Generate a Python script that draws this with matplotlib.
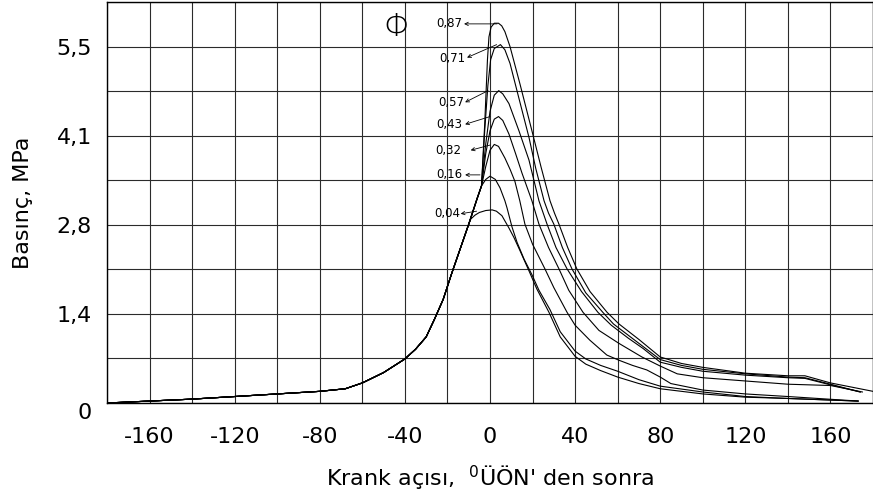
import numpy as np
import matplotlib
matplotlib.use("Agg")
import matplotlib.pyplot as plt

# ortak sıkıştırma eğrisi (tüm eğriler buradan ayrılıyor)
base_x = [-180, -160, -140, -120, -100, -80, -68, -60, -50, -40, -35, -30, -26, -22, -18, -14, -10]
base_y = [0, 0.03, 0.06, 0.10, 0.14, 0.18, 0.22, 0.31, 0.47, 0.68, 0.83, 1.02, 1.30, 1.60, 2.00, 2.38, 2.76]

# her Φ değeri için ayrılan kısım
phi_004_x = [-9, -7, -5, -2, 1, 3, 5.6, 8.9, 11.3, 14.1, 18.3, 22, 27.7, 33, 40, 45, 52, 60, 70, 80, 100, 120, 140, 173]
phi_004_y = [2.84, 2.90, 2.94, 2.97, 2.98, 2.96, 2.89, 2.70, 2.55, 2.35, 2.04, 1.76, 1.40, 1.02, 0.72, 0.60, 0.50, 0.40, 0.30, 0.22, 0.14, 0.09, 0.07, 0.03]

phi_016_x = [-8, -6, -4, -2, 0, 2.5, 4.7, 7, 8, 10.3, 12.7, 16, 19.7, 23, 28.2, 33, 40, 45, 52, 60, 70, 80, 100, 120, 140, 173]
phi_016_y = [2.96, 3.16, 3.35, 3.45, 3.50, 3.45, 3.32, 3.12, 3.01, 2.72, 2.48, 2.22, 1.98, 1.74, 1.44, 1.10, 0.80, 0.68, 0.58, 0.49, 0.36, 0.26, 0.17, 0.10, 0.07, 0.03]

phi_032_x = [-8, -6, -4, -2, 0, 2, 4, 7, 9.5, 11.7, 14, 16.4, 20, 25.8, 30, 36.2, 40, 46.9, 54.9, 60.6, 67, 73.7, 80, 85, 100, 120, 140, 173]
phi_032_y = [2.96, 3.16, 3.35, 3.65, 3.90, 3.99, 3.96, 3.78, 3.60, 3.42, 3.12, 2.76, 2.45, 2.07, 1.78, 1.40, 1.20, 0.97, 0.74, 0.66, 0.58, 0.51, 0.40, 0.30, 0.20, 0.14, 0.10, 0.03]

phi_043_x = [-8, -6, -4, -2, 0, 2, 4, 6, 8.9, 12, 15, 19.7, 23, 27.5, 32.4, 37, 43.7, 51.2, 60.6, 71.4, 80, 88, 100, 120, 140, 160, 175]
phi_043_y = [2.96, 3.16, 3.35, 3.85, 4.20, 4.38, 4.42, 4.36, 4.15, 3.85, 3.55, 3.12, 2.76, 2.40, 2.07, 1.74, 1.40, 1.12, 0.92, 0.71, 0.57, 0.45, 0.39, 0.34, 0.29, 0.27, 0.17]

phi_057_x = [-8, -6, -4, -2, 0, 2, 4.1, 6, 8.9, 13.6, 18.3, 23, 26.8, 31, 36.2, 43, 50.7, 57, 65, 72, 80, 90, 100, 120, 140, 148, 160, 174]
phi_057_y = [2.96, 3.16, 3.35, 4.00, 4.50, 4.75, 4.82, 4.77, 4.62, 4.20, 3.75, 3.12, 2.76, 2.40, 2.07, 1.72, 1.40, 1.20, 1.00, 0.84, 0.63, 0.55, 0.49, 0.43, 0.39, 0.38, 0.28, 0.17]

phi_071_x = [-8, -6, -4, -2.5, -1, 0.3, 2, 4.9, 7, 9.4, 13.6, 18.3, 21.5, 25.4, 27.5, 30, 34, 38.5, 45, 53, 58, 70, 80, 90, 100, 120, 140, 148, 160, 174]
phi_071_y = [2.96, 3.16, 3.35, 4.20, 4.90, 5.30, 5.47, 5.53, 5.45, 5.24, 4.70, 4.10, 3.62, 3.12, 2.93, 2.76, 2.40, 2.07, 1.70, 1.40, 1.22, 0.92, 0.67, 0.58, 0.52, 0.45, 0.40, 0.39, 0.29, 0.17]

phi_087_x = [-8, -6, -4, -2.5, -1.2, -0.5, 0.5, 2, 4, 5.5, 7, 9.4, 14.1, 19.7, 24, 28.2, 30.3, 32.4, 36.5, 40.8, 47, 55, 60.6, 70, 80, 90, 100, 120, 140, 148, 160, 180]
phi_087_y = [2.96, 3.16, 3.35, 4.30, 5.30, 5.65, 5.80, 5.86, 5.86, 5.82, 5.73, 5.50, 4.92, 4.20, 3.64, 3.12, 2.93, 2.76, 2.40, 2.07, 1.72, 1.40, 1.22, 0.98, 0.71, 0.61, 0.55, 0.46, 0.42, 0.42, 0.31, 0.18]

etiketler = ['0,87', '0,71', '0,57', '0,43', '0,32', '0,16', '0,04']

egriler = [(phi_087_x, phi_087_y), (phi_071_x, phi_071_y), (phi_057_x, phi_057_y),
           (phi_043_x, phi_043_y), (phi_032_x, phi_032_y), (phi_016_x, phi_016_y),
           (phi_004_x, phi_004_y)]

fig = plt.figure(figsize=(8.73, 5.03), dpi=100)
ax = fig.add_axes([0.1226, 0.1988, 0.8774, 0.7972])

for ex, ey in egriler:
    ax.plot(base_x + ex, base_y + ey, color='black', lw=0.8)

# etiket konumları: (yazı, ok ucu, eğri noktası)
etiket_yer = [((-19.0, 5.85), (-12.2, 5.85), (3.3, 5.85)),
              ((-17.9, 5.32), (-10.8, 5.33), (3.1, 5.53)),
              ((-18.3, 4.64), (-11.7, 4.64), (-0.9, 4.82)),
              ((-19.0, 4.30), (-11.7, 4.30), (0.0, 4.42)),
              ((-19.5, 3.90), (-9.1, 3.90), (0.0, 3.98)),
              ((-19.0, 3.53), (-11.7, 3.52), (-4.7, 3.52)),
              ((-20.2, 2.92), (-13.8, 2.92), (-6.3, 2.96))]

for lab, (t, h, c) in zip(etiketler, etiket_yer):
    ax.text(t[0], t[1], lab, fontsize=8.5, ha='center', va='center')
    ax.annotate('', xy=h, xytext=c,
                arrowprops=dict(arrowstyle='->', lw=0.6, color='black',
                                shrinkA=0, shrinkB=0, mutation_scale=6))

ax.text(-43.7, 5.80, 'Φ', fontsize=23, fontweight='light', ha='center', va='center', color='black')

ax.set_xlim(-180, 180)
ax.set_ylim(0, 6.16)

ax.set_xticks(np.arange(-160, 161, 40))
ax.set_xticks(np.arange(-180, 181, 20), minor=True)
ax.set_xticklabels([str(v) for v in range(-160, 161, 40)])

yt = [0, 1.375, 2.75, 4.125, 5.5]
ax.set_yticks(yt)
ax.set_yticks(np.arange(0, 6.2, 0.6875), minor=True)
ax.set_yticklabels(['0', '1,4', '2,8', '4,1', '5,5'])

ax.grid(which='both', color='#2b2b2b', lw=0.8)
ax.tick_params(which='both', length=0, labelsize=16)
ax.tick_params(axis='x', pad=17)
ax.tick_params(axis='y', pad=11)
ax.get_yticklabels()[0].set_va('top')

for s in ax.spines.values():
    s.set_color('black')
    s.set_linewidth(1.0)

ax.set_ylabel('Basınç, MPa', fontsize=16, labelpad=17)
ax.set_xlabel("Krank açısı,  ${}^{0}$ÜÖN' den sonra", fontsize=16, labelpad=12)

fig.savefig('out.png', dpi=100)
